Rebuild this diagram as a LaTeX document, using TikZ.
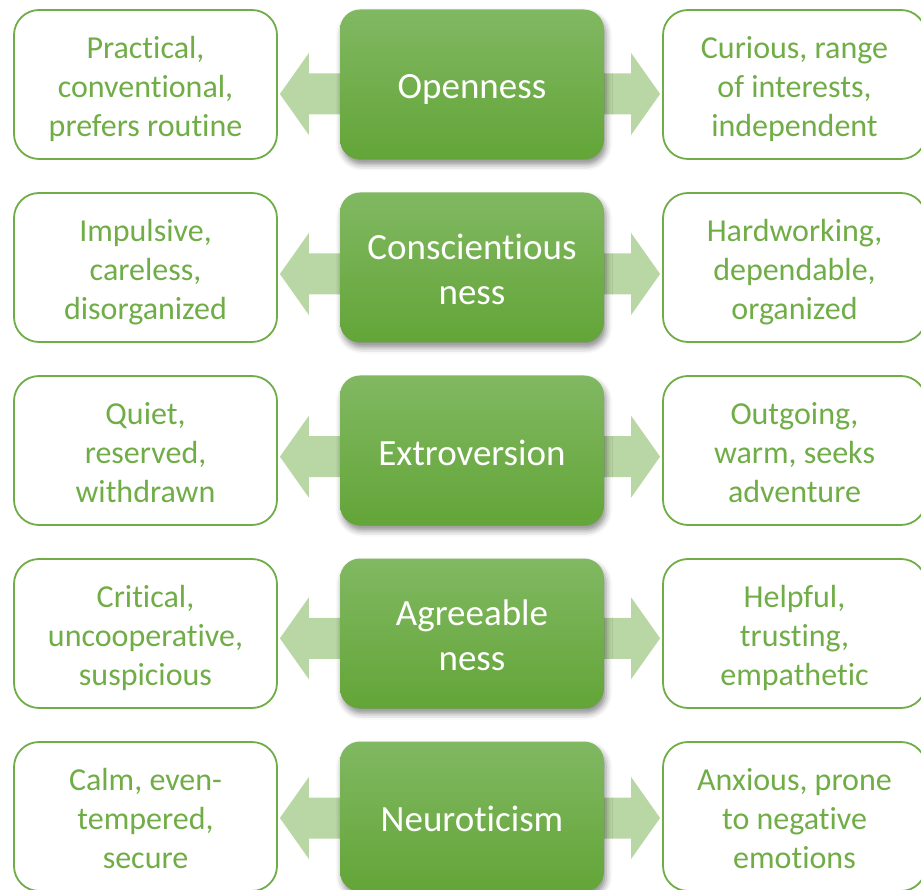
\documentclass[tikz,border=0pt]{standalone}
\usepackage{fontspec}
\setmainfont[Ligatures=NoCommon]{Carlito}
\usetikzlibrary{calc,shadows.blur}
\definecolor{leafgreen}{HTML}{70AD47}
\definecolor{palegreen}{HTML}{B9D7A5}
\definecolor{traittop}{HTML}{81B862}
\definecolor{traitbot}{HTML}{63A538}
% struts that give every text line the same box, so the text is centred by its lines
\newcommand\polestrut{\rule[-6.75pt]{0pt}{39pt}}
\newcommand\traitstrut{\rule[-8pt]{0pt}{45pt}}
\pgfdeclarelayer{back}
\pgfsetlayers{back,main}
\begin{document}
\begin{tikzpicture}[x=1pt,y=-1pt,
  pole/.style={draw=leafgreen, line width=1.8pt, fill=white,
    rounded corners=25pt, minimum width=263pt, minimum height=149pt,
    inner sep=0pt, align=center, text=leafgreen,
    font=\fontsize{32}{39}\selectfont},
  trait/.style={rounded corners=20pt, minimum width=264pt, minimum height=150pt,
    inner sep=0pt, align=center, text=white,
    top color=traittop, bottom color=traitbot,
    font=\fontsize{37}{45}\selectfont,
    blur shadow={shadow xshift=2pt, shadow yshift=-5pt,
      shadow blur radius=6pt, shadow opacity=45}},
  blockarrow/.style={fill=palegreen}]
\useasboundingbox (0,0) rectangle (921,890);

% row 1
\node[pole]  (L1) at (145.5,84.5) {\polestrut Practical,\\conventional,\\prefers routine\polestrut};
\node[trait] (C1) at (472,84.5)   {\traitstrut Openness};
\node[pole]  (R1) at (794.5,84.5) {\polestrut Curious, range\\of interests,\\independent\polestrut};
% row 2
\node[pole]  (L2) at (145.5,267.5) {\polestrut Impulsive,\\careless,\\disorganized\polestrut};
\node[trait] (C2) at (472,267.5)   {\traitstrut Conscientious\\ness\traitstrut};
\node[pole]  (R2) at (794.5,267.5) {\polestrut Hardworking,\\dependable,\\organized\polestrut};
% row 3
\node[pole]  (L3) at (145.5,450.5) {\polestrut Quiet,\\reserved,\\withdrawn\polestrut};
\node[trait] (C3) at (472,450.5)   {\traitstrut Extroversion};
\node[pole]  (R3) at (794.5,450.5) {\polestrut Outgoing,\\warm, seeks\\adventure\polestrut};
% row 4
\node[pole]  (L4) at (145.5,633.5) {\polestrut Critical,\\uncooperative,\\suspicious\polestrut};
\node[trait] (C4) at (472,633.5)   {\traitstrut Agreeable\\ness\traitstrut};
\node[pole]  (R4) at (794.5,633.5) {\polestrut Helpful,\\trusting,\\empathetic\polestrut};
% row 5
\node[pole]  (L5) at (145.5,816.5) {\polestrut Calm, even-\\tempered,\\secure\polestrut};
\node[trait] (C5) at (472,816.5)   {\traitstrut Neuroticism};
\node[pole]  (R5) at (794.5,816.5) {\polestrut Anxious, prone\\to negative\\emotions\polestrut};

% double block arrows from each trait to its two poles
\begin{pgfonlayer}{back}
\foreach \r/\ay in {1/94,2/274,3/456.7,4/638.3,5/818} {
  \coordinate (a\r) at (472,\ay);
  \coordinate (tl\r) at ($(L\r.east |- a\r)+(2,0)$);
  \coordinate (tr\r) at ($(R\r.west |- a\r)+(-2,0)$);
  \fill[blockarrow] (tl\r) -- ++(29,-41) -- ++(0,20.5)
    -- ($(C\r.west |- a\r)+(10,-20.5)$) -- ++(0,41)
    -- ($(tl\r)+(29,20.5)$) -- ++(0,20.5) -- cycle;
  \fill[blockarrow] (tr\r) -- ++(-29,-41) -- ++(0,20.5)
    -- ($(C\r.east |- a\r)+(-10,-20.5)$) -- ++(0,41)
    -- ($(tr\r)+(-29,20.5)$) -- ++(0,20.5) -- cycle;
}
\end{pgfonlayer}
\end{tikzpicture}
\end{document}
